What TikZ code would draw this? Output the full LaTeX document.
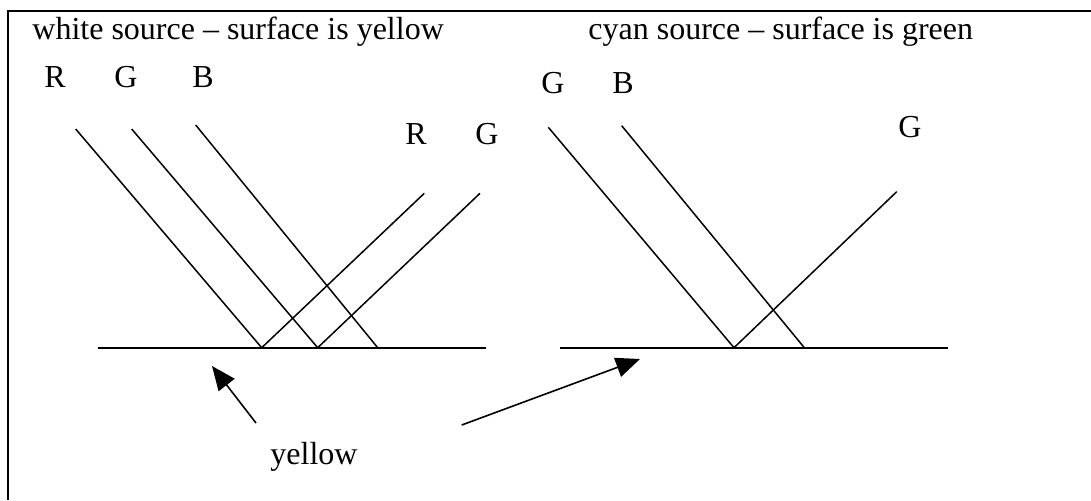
\documentclass[tikz,border=0pt]{standalone}
\usepackage{fontspec}
\setmainfont{Liberation Serif}
\usetikzlibrary{arrows.meta}
\begin{document}
\begin{tikzpicture}[x=0.5pt,y=-0.5pt,
  lbl/.style={anchor=base,inner sep=0pt,font=\fontsize{16}{19}\selectfont},
  ttl/.style={anchor=base west,inner sep=0pt,font=\fontsize{16}{19}\selectfont},
  ray/.style={line width=0.75pt},
  surf/.style={line width=0.9pt},
  frame/.style={line width=1pt},
  pointer/.style={line width=0.8pt,-{Triangle[length=12pt,width=10pt]}}]
\useasboundingbox (0,0) rectangle (1091,500);
% frame (cut off at right and bottom)
\coordinate (fTL) at (8,11);
\coordinate (fTR) at (1091,11);
\coordinate (fBL) at (8,500);
\draw[frame] (fBL) -- (fTL) -- (fTR);
% titles
\node[ttl] (t1) at (32,39) {white source -- surface is yellow};
\node[ttl] (t2) at (588,39) {cyan source -- surface is green};
% left panel labels
\node[lbl] (lR) at (55,87) {R};
\node[lbl] (lG) at (126,87) {G};
\node[lbl] (lB) at (203,87) {B};
\node[lbl] (rR) at (416,144) {R};
\node[lbl] (rG) at (487,144) {G};
% right panel labels
\node[lbl] (cG) at (553,93) {G};
\node[lbl] (cB) at (623,93) {B};
\node[lbl] (cGr) at (910,137) {G};
% left panel geometry
\coordinate (s1a) at (97.7,347.7);
\coordinate (s1b) at (486,347.7);
\coordinate (i1) at (75.7,129);
\coordinate (i2) at (131.7,129);
\coordinate (i3) at (195.7,125);
\coordinate (h1) at (261.7,347.7);
\coordinate (h2) at (317.7,347.7);
\coordinate (h3) at (377.7,347.7);
\coordinate (o1) at (424.3,193.3);
\coordinate (o2) at (480,193.3);
\draw[surf] (s1a) -- (s1b);
\draw[ray] (i1) -- (h1) -- (o1);
\draw[ray] (i2) -- (h2) -- (o2);
\draw[ray] (i3) -- (h3);
% right panel geometry
\coordinate (s2a) at (560,347.7);
\coordinate (s2b) at (948.3,347.7);
\coordinate (j1) at (548.3,127.3);
\coordinate (j2) at (621.7,125.7);
\coordinate (k1) at (734,347.7);
\coordinate (k2) at (804.3,347.7);
\coordinate (q1) at (896.7,191.7);
\draw[surf] (s2a) -- (s2b);
\draw[ray] (j1) -- (k1) -- (q1);
\draw[ray] (j2) -- (k2);
% yellow label and pointers
\node[lbl] (yl) at (314,464) {yellow};
\coordinate (a1s) at (256,423);
\coordinate (a1e) at (212,366);
\coordinate (a2s) at (461.7,425);
\coordinate (a2e) at (640,359);
\draw[pointer] (a1s) -- (a1e);
\draw[pointer] (a2s) -- (a2e);
\end{tikzpicture}
\end{document}
